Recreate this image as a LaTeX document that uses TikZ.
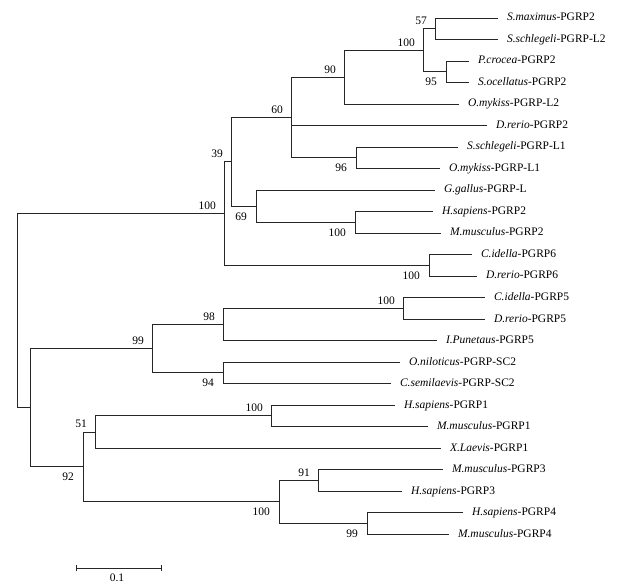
\documentclass[tikz,border=0pt]{standalone}
\usepackage{fontspec}
\setmainfont{Liberation Serif}
\usetikzlibrary{arrows.meta}

\begin{document}
\begin{tikzpicture}
	[x = 1pt, y = -1pt,
	branch/.style={black!85, line width=0.8pt},
	treefont/.style={font=\fontsize{11.5}{13}\selectfont},
	tip/.style={treefont, anchor=west, inner sep=0pt, outer xsep=9pt, text height=8.5pt, text depth=2.5pt},
	bsup/.style={treefont, anchor=base east, inner sep=0pt, xshift=-8pt, yshift=4pt},
	bsdown/.style={treefont, anchor=base east, inner sep=0pt, xshift=-9pt, yshift=-14pt}]
	
	\useasboundingbox (0, 0) rectangle (618, 585);
	
	% Draw tips
	\foreach \x/\name [count=\i] in {
		498/{\textit{S.maximus}-PGRP2},
		498/{\textit{S.schlegeli}-PGRP-L2},
		469/{\textit{P.crocea}-PGRP2},
		469/{\textit{S.ocellatus}-PGRP2},
		459/{\textit{O.mykiss}-PGRP-L2},
		487/{\textit{D.rerio}-PGRP2},
		458/{\textit{S.schlegeli}-PGRP-L1},
		440/{\textit{O.mykiss}-PGRP-L1},
		435/{\textit{G.gallus}-PGRP-L},
		433/{\textit{H.sapiens}-PGRP2},
		441/{\textit{M.musculus}-PGRP2},
		472/{\textit{C.idella}-PGRP6},
		477/{\textit{D.rerio}-PGRP6},
		485/{\textit{C.idella}-PGRP5},
		485/{\textit{D.rerio}-PGRP5},
		437/{\textit{I.Punetaus}-PGRP5},
		400/{\textit{O.niloticus}-PGRP-SC2},
		391/{\textit{C.semilaevis}-PGRP-SC2},
		395/{\textit{H.sapiens}-PGRP1},
		428/{\textit{M.musculus}-PGRP1},
		441/{\textit{X.Laevis}-PGRP1},
		443/{\textit{M.musculus}-PGRP3},
		402/{\textit{H.sapiens}-PGRP3},
		463/{\textit{H.sapiens}-PGRP4},
		449/{\textit{M.musculus}-PGRP4}}
		\node[tip] (t\i) at (\x, {18 + 21.5*(\i - 1)}) {\name};
	
	% Draw inner nodes of upper clade
	\coordinate (n57) at (435, 28.75);
	\coordinate (n95) at (446, 71.75);
	\coordinate (n100a) at (423, 50.25);
	\coordinate (n90) at (344, 77.1);
	\coordinate (n96) at (356, 157.75);
	\coordinate (n60) at (291, 117.4);
	\coordinate (n100b) at (355, 222.25);
	\coordinate (n69) at (256, 206.1);
	\coordinate (n39) at (231, 161.8);
	\coordinate (n100c) at (429, 265.25);
	\coordinate (n100d) at (224, 213.5);
	
	% Draw inner nodes of lower clade
	\coordinate (n100e) at (403, 308.25);
	\coordinate (n98) at (223, 324.4);
	\coordinate (n94) at (223, 372.75);
	\coordinate (n99) at (152, 348.6);
	\coordinate (n100f) at (271, 415.75);
	\coordinate (n51) at (95, 431.9);
	\coordinate (n91) at (318, 480.25);
	\coordinate (n99b) at (367, 523.25);
	\coordinate (n100g) at (279, 501.75);
	\coordinate (n92) at (83, 466.8);
	\coordinate (nlow) at (30, 407.7);
	
	% Draw root
	\coordinate (root) at (17, 310.6);
	
	% Draw branches to tips
	\foreach \p/\c in {n57/t1, n57/t2, n95/t3, n95/t4, n90/t5, n60/t6,
		n96/t7, n96/t8, n69/t9, n100b/t10, n100b/t11, n100c/t12, n100c/t13,
		n100e/t14, n100e/t15, n98/t16, n94/t17, n94/t18, n100f/t19,
		n100f/t20, n51/t21, n91/t22, n91/t23, n99b/t24, n99b/t25}
		\draw[branch] (\p) |- (\c.west);
	
	% Draw inner branches
	\foreach \p/\c in {n100a/n57, n100a/n95, n90/n100a, n60/n90, n60/n96,
		n39/n60, n39/n69, n69/n100b, n100d/n39, n100d/n100c, root/n100d,
		n98/n100e, n99/n98, n99/n94, nlow/n99, nlow/n92, n92/n51,
		n92/n100g, n51/n100f, n100g/n91, n100g/n99b, root/nlow}
		\draw[branch] (\p) |- (\c);
	
	% Draw bootstrap values
	\foreach \n/\v in {n57/57, n100a/100, n90/90, n60/60, n39/39, n100d/100,
		n100e/100, n98/98, n99/99, n100f/100, n51/51, n91/91}
		\node[bsup] (b\n) at (\n) {\v};
	\foreach \n/\v in {n95/95, n96/96, n69/69, n100b/100, n100c/100,
		n94/94, n92/92, n100g/100, n99b/99}
		\node[bsdown] (b\n) at (\n) {\v};
	
	% Draw scale bar
	\coordinate (s0) at (76, 568);
	\coordinate (s1) at (162, 568);
	\draw[branch, {Bar[width=6pt]}-{Bar[width=6pt]}] (s0) -- (s1);
	\node[treefont] (scale) at (117, 578) {0.1};
	
\end{tikzpicture}
\end{document}
